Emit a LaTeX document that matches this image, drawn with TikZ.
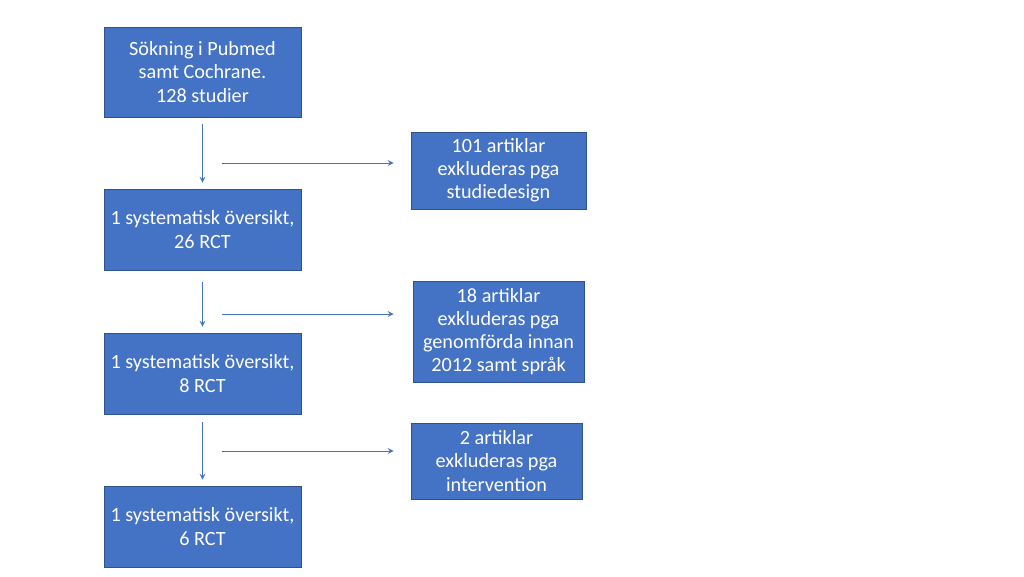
\documentclass[tikz,border=0pt]{standalone}
\usepackage{fontspec}
\setmainfont{Carlito}
\usetikzlibrary{positioning}
\definecolor{boxblue}{HTML}{4472C4}
\definecolor{boxedge}{HTML}{2F528F}
\tikzset{
  flowbox/.style={draw=boxedge, fill=boxblue, text=white, align=center, font=\fontsize{11.5}{13.2}\selectfont, inner sep=0pt},
  arr/.style={draw=boxblue, -stealth, line width=0.5pt}
}
\begin{document}
\begin{tikzpicture}[x=0.02cm, y=-0.02cm]
\useasboundingbox (0,0) rectangle (1024,576);
% main chain
\node[flowbox, minimum width=197*0.02cm, minimum height=90*0.02cm] (sok) at (202.5,72) {Sökning i Pubmed\\samt Cochrane.\\128 studier};
\node[flowbox, minimum width=197*0.02cm, minimum height=81*0.02cm] (rct26) at (202.5,229.5) {1 systematisk översikt,\\26 RCT};
\node[flowbox, minimum width=197*0.02cm, minimum height=81*0.02cm] (rct8) at (202.5,373.5) {1 systematisk översikt,\\8 RCT};
\node[flowbox, minimum width=197*0.02cm, minimum height=81*0.02cm] (rct6) at (202.5,526.5) {1 systematisk översikt,\\6 RCT};
% exclusions
\node[flowbox, minimum width=175*0.02cm, minimum height=77*0.02cm] (ex1) at (498.5,170.5) {101 artiklar\\exkluderas pga\\studiedesign};
\node[flowbox, minimum width=171*0.02cm, minimum height=101*0.02cm] (ex2) at (498.5,331.5) {18 artiklar\\exkluderas pga\\genomförda innan\\2012 samt språk};
\node[flowbox, minimum width=171*0.02cm, minimum height=76*0.02cm] (ex3) at (496.5,461) {2 artiklar\\exkluderas pga\\intervention};
% arrows down
\draw[arr, shorten <=0.14cm, shorten >=0.12cm] (sok.south) -- (rct26.north);
\draw[arr, shorten <=0.24cm, shorten >=0.12cm] (rct26.south) -- (rct8.north);
\draw[arr, shorten <=0.16cm, shorten >=0.12cm] (rct8.south) -- (rct6.north);
% arrows right
\coordinate (h1) at (222,163);
\coordinate (h2) at (222,314);
\coordinate (h3) at (222,451);
\draw[arr, shorten >=0.34cm] (h1) -- (h1 -| ex1.west);
\draw[arr, shorten >=0.38cm] (h2) -- (h2 -| ex2.west);
\draw[arr, shorten >=0.34cm] (h3) -- (h3 -| ex3.west);
\end{tikzpicture}
\end{document}
